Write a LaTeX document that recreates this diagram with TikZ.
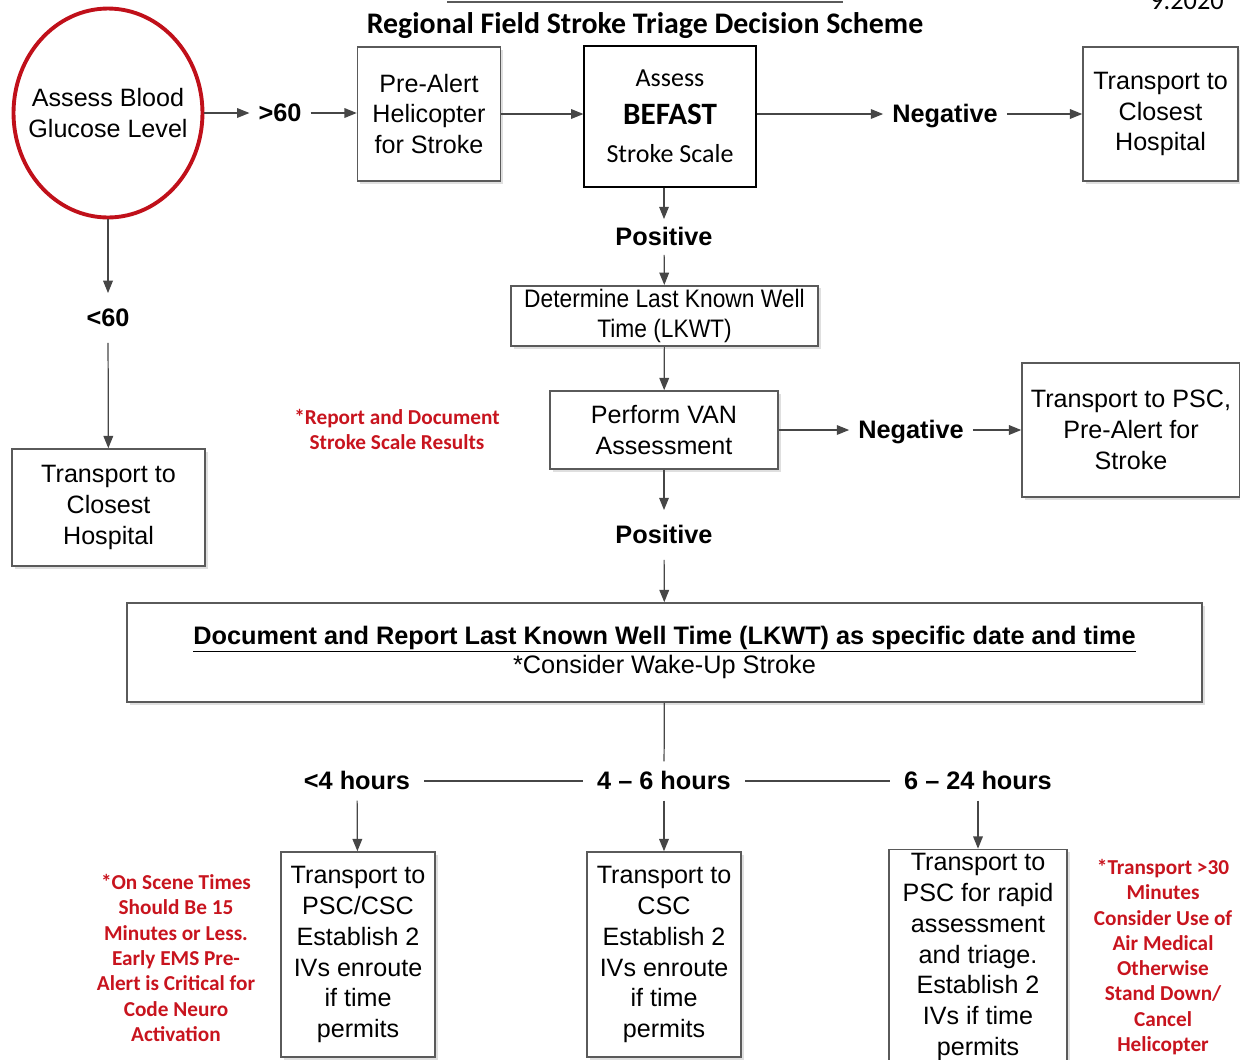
\documentclass[tikz,border=0pt]{standalone}
\usepackage{fontspec}
\setmainfont{Liberation Sans}
\newfontfamily\calibri{Carlito}
\newfontfamily\narrowsans[FakeStretch=0.9]{Liberation Sans}
\usetikzlibrary{shapes.geometric,shadows,arrows.meta}
\definecolor{alertred}{RGB}{200,20,30}
\definecolor{ringred}{RGB}{192,16,26}
\definecolor{boxgray}{RGB}{90,90,90}
\definecolor{arrowgray}{RGB}{70,70,70}

\tikzset{
  stepbox/.style={draw=boxgray, line width=0.9pt, fill=white, align=center, inner sep=2pt,
    font=\fontsize{14.3}{17.6}\selectfont,
    drop shadow={shadow xshift=1.5pt, shadow yshift=-1.5pt, fill=black!25}},
  branch/.style={font=\bfseries\fontsize{14.4}{17}\selectfont, text height=2.1ex, text depth=.25ex,
    inner xsep=5pt, inner ysep=3.8pt},
  note/.style={text=alertred, align=center, font=\calibri\bfseries\fontsize{12.1}{14.4}\selectfont},
  arr/.style={draw=arrowgray, line width=0.7pt, -{Triangle[length=7pt,width=5.5pt]}},
  link/.style={draw=arrowgray, line width=0.7pt},
}

\begin{document}
\begin{tikzpicture}[x=0.02cm,y=-0.02cm]
  \useasboundingbox (0,0) rectangle (1240,1059);

  % heading
  \draw[boxgray, line width=1.2pt] (447,2) -- (843,2);
  \node[font=\calibri\bfseries\fontsize{17}{20}\selectfont] (title) at (645,26) {Regional Field Stroke Triage Decision Scheme};
  \node[anchor=base east, font=\calibri\fontsize{15}{18}\selectfont] (date) at (1230,9) {9.2020};

  % top row
  \node[ellipse, draw=ringred, line width=2.2pt, minimum width=3.78cm, minimum height=4.18cm,
    inner xsep=-8pt, inner ysep=0pt, align=center, font=\fontsize{14.3}{17.6}\selectfont]
    (glu) at (108,113) {Assess Blood\\Glucose Level};
  \node[branch] (gt60) at (280,113) {>60};
  \node[stepbox, minimum width=2.86cm, minimum height=2.68cm] (pre) at (429,114) {Pre-Alert\\Helicopter\\for Stroke};
  \node[draw=black, line width=0.7pt, minimum width=3.44cm, minimum height=2.82cm, align=center,
    font=\calibri\fontsize{14.8}{21.5}\selectfont] (befast) at (670,116.5)
    {Assess\\{\bfseries\fontsize{17.7}{21.5}\selectfont BEFAST}\\Stroke Scale};
  \node[branch] (negA) at (945,114) {Negative};
  \node[stepbox, minimum width=3.1cm, minimum height=2.68cm] (closeA) at (1160.5,114) {Transport to\\Closest\\Hospital};

  % middle column
  \node[branch] (posA) at (664,237) {Positive};
  \node[stepbox, font=\narrowsans\fontsize{14.4}{17}\selectfont, minimum width=6.14cm, minimum height=1.16cm]
    (lkwt) at (664.5,316) {Determine Last Known Well\\Time (LKWT)};
  \node[stepbox, minimum width=4.56cm, minimum height=1.56cm] (van) at (664,430) {Perform VAN\\Assessment};
  \node[branch] (negB) at (911,430) {Negative};
  \node[stepbox, minimum width=4.36cm, minimum height=2.68cm] (psc) at (1131,430) {Transport to PSC,\\Pre-Alert for\\Stroke};
  \node[note] (report) at (397,429.5) {*Report and Document\\Stroke Scale Results};
  \node[branch, inner ysep=7.8pt] (posB) at (664,535) {Positive};
  \node[stepbox, minimum width=21.5cm, minimum height=1.98cm, font=\fontsize{14.4}{17}\selectfont]
    (lkwtdoc) at (664.5,652.5)
    {{\bfseries\underline{Document and Report Last Known Well Time (LKWT) as specific date and time}}\\{*}Consider Wake-Up Stroke};

  % left column
  \node[branch, inner ysep=7.8pt] (lt60) at (108,318) {<60};
  \node[stepbox, minimum width=3.86cm, minimum height=2.34cm] (closeB) at (108.5,507.5) {Transport to\\Closest\\Hospital};

  % time windows
  \node[branch, inner xsep=8pt, inner ysep=4.8pt] (h4) at (357,781) {<4 hours};
  \node[branch, inner xsep=8pt, inner ysep=4.8pt] (h46) at (664,781) {4 \textendash{} 6 hours};
  \node[branch, inner xsep=8pt, inner ysep=4.8pt] (h624) at (978,781) {6 \textendash{} 24 hours};
  \node[stepbox, minimum width=3.08cm, minimum height=4.1cm] (boxA) at (358,954.5)
    {Transport to\\PSC/CSC\\Establish 2\\IVs enroute\\if time\\permits};
  \node[stepbox, minimum width=3.08cm, minimum height=4.1cm] (boxB) at (664,954.5)
    {Transport to\\CSC\\Establish 2\\IVs enroute\\if time\\permits};
  \node[stepbox, minimum width=3.56cm, minimum height=4.2cm] (boxC) at (978,957)
    {Transport to\\PSC for rapid\\assessment\\and triage.\\Establish 2\\IVs if time\\permits};
  \node[note] (scene) at (176,958) {*On Scene Times\\Should Be 15\\Minutes or Less.\\Early EMS Pre-\\Alert is Critical for\\Code Neuro\\Activation};
  \node[note] (air) at (1163,957) {*Transport >30\\Minutes\\Consider Use of\\Air Medical\\Otherwise\\Stand Down/\\Cancel\\Helicopter};

  % connectors
  \draw[arr] (glu) -- (gt60);
  \draw[arr] (gt60) -- (pre.west |- gt60);
  \draw[arr] (pre.east) -- (pre.east -| befast.west);
  \draw[arr] (befast.east |- negA) -- (negA);
  \draw[arr] (negA) -- (closeA);
  \draw[arr] (posA |- befast.south) -- (posA);
  \draw[arr] (posA) -- (lkwt);
  \draw[arr] (lkwt) -- (van);
  \draw[arr] (van) -- (negB);
  \draw[arr] (negB) -- (psc);
  \draw[arr] (van) -- (posB);
  \draw[arr] (posB) -- (lkwtdoc);
  \draw[link] (lkwtdoc) -- (h46);
  \draw[link] (h4) -- (h46) -- (h624);
  \draw[arr] (h4) -- (boxA);
  \draw[arr] (h46) -- (boxB);
  \draw[arr] (h624) -- (boxC);
  \draw[arr] (glu) -- (lt60);
  \draw[arr] (lt60) -- (closeB);
\end{tikzpicture}
\end{document}
